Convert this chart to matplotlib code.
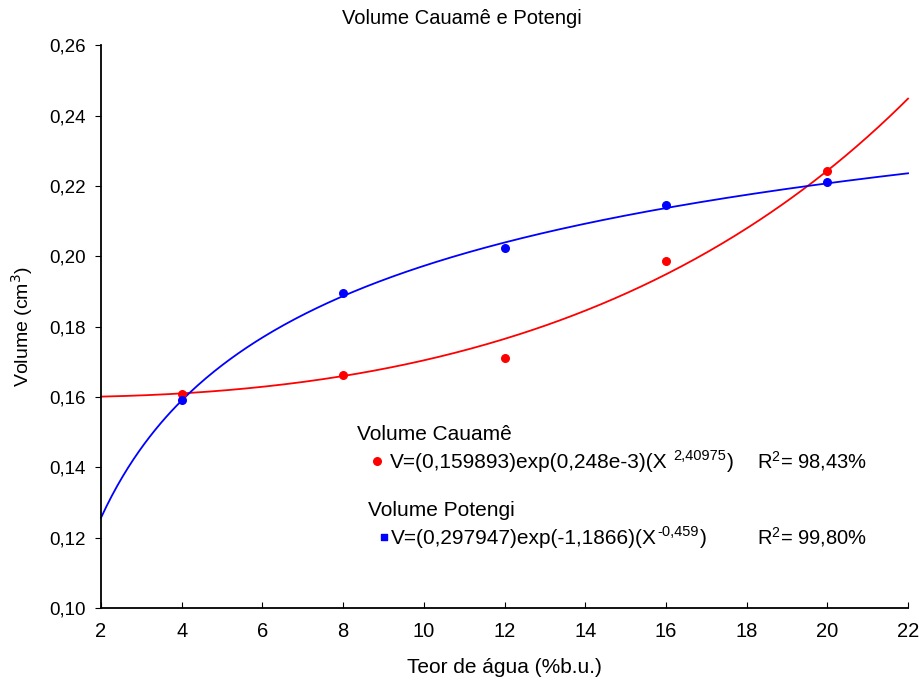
import matplotlib
matplotlib.use("Agg")
import matplotlib.pyplot as plt
import numpy as np

plt.rcParams['font.family'] = ['Liberation Sans', 'DejaVu Sans']

# teor de agua (%b.u.)
teor = [4, 8, 12, 16, 20]
vol_cauame = [0.1608, 0.1662, 0.1711, 0.1986, 0.2242]
vol_potengi = [0.1591, 0.1895, 0.2023, 0.2145, 0.2211]

# V = a * exp(b * X^c), parametros das equacoes do grafico
fit_cauame = [0.159893, 0.248e-3, 2.40975]
fit_potengi = [0.297947, -1.1866, -0.459]

xticks = [2, 4, 6, 8, 10, 12, 14, 16, 18, 20, 22]
yticks = [0.10, 0.12, 0.14, 0.16, 0.18, 0.20, 0.22, 0.24, 0.26]


def modelo(x, p):
    return p[0] * np.exp(p[1] * x ** p[2])


fig = plt.figure(figsize=(9.2, 6.84), dpi=100)
ax = fig.add_axes([0.1098, 0.111, 0.8772, 0.823])

xx = np.linspace(2, 22, 300)
ax.plot(xx, modelo(xx, fit_cauame), color='red', lw=1.3, clip_on=False)
ax.plot(xx, modelo(xx, fit_potengi), color='blue', lw=1.3, clip_on=False)
ax.scatter(teor, vol_cauame, s=30, color='red', zorder=3, clip_on=False)
ax.scatter(teor, vol_potengi, s=30, color='blue', zorder=3, clip_on=False)

ax.set_xlim(2, 22)
ax.set_ylim(0.10, 0.26)
ax.set_xticks(xticks)
ax.set_yticks(yticks)
ax.set_xticklabels([str(t) for t in xticks])
ax.set_yticklabels([('%.2f' % t).replace('.', ',') for t in yticks])
ax.spines['top'].set_visible(False)
ax.spines['right'].set_visible(False)
ax.spines['left'].set_linewidth(1.3)
ax.spines['bottom'].set_linewidth(1.3)
ax.tick_params(axis='x', direction='in', length=4, labelsize=14.5, pad=10)
ax.tick_params(axis='y', direction='out', length=4, labelsize=13.5, pad=7)

ax.set_xlabel('Teor de água (%b.u.)', fontsize=15, labelpad=12)
ax.set_ylabel('Volume (cm$^3$)', fontsize=14, labelpad=10)
fig.text(0.502, 0.973, 'Volume Cauamê e Potengi', ha='center', va='center', fontsize=14.5)


def equacao(x, y, base, sup, gap):
    # texto base + expoente + parentese final
    t1 = fig.text(x, y, base, fontsize=15, va='baseline')
    t2 = ax.annotate(sup, xy=(1, 0.5), xycoords=t1, xytext=(gap, 0),
                     textcoords='offset points', fontsize=10.5, va='bottom')
    ax.annotate(')', xy=(1, 0), xycoords=(t2, t1), xytext=(0.5, 0),
                textcoords='offset points', fontsize=15, va='bottom')


# legenda com equacoes
fig.text(357 / 920, 1 - 435 / 684, 'Volume Cauamê', fontsize=15, va='center')
ax.scatter([0.342], [0.261], s=30, color='red', transform=ax.transAxes, clip_on=False)
equacao(390 / 920, 1 - 468 / 684, 'V=(0,159893)exp(0,248e-3)(X', '2,40975', 4)
fig.text(757 / 920, 1 - 468 / 684, '$\\mathregular{R^2}$= 98,43%', fontsize=14.5, va='baseline')

fig.text(368 / 920, 1 - 510 / 684, 'Volume Potengi', fontsize=15, va='center')
ax.scatter([0.3507], [0.126], s=20, marker='s', color='blue', transform=ax.transAxes, clip_on=False)
equacao(391 / 920, 1 - 544 / 684, 'V=(0,297947)exp(-1,1866)(X', '-0,459', 0.5)
fig.text(757 / 920, 1 - 544 / 684, '$\\mathregular{R^2}$= 99,80%', fontsize=14.5, va='baseline')

fig.savefig('out.png', dpi=100)
